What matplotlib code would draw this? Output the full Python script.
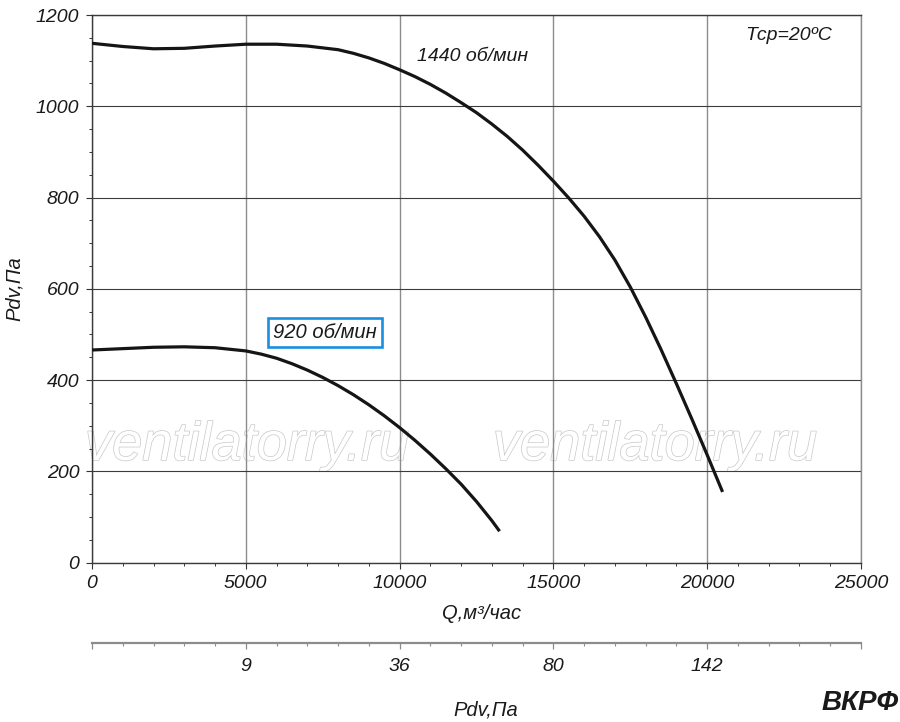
import numpy as np
import matplotlib
matplotlib.use('Agg')
import matplotlib.pyplot as plt
from matplotlib.ticker import MultipleLocator
import matplotlib.patheffects as pe

plt.rcParams['font.family'] = ['Liberation Sans', 'DejaVu Sans']
plt.rcParams['font.style'] = 'italic'

# curve 1440 rpm
q_1440 = [0, 1000, 2000, 3000, 4000, 5000, 6000, 7000, 8000, 8500, 9000,
          9500, 10000, 10500, 11000, 11500, 12000, 12500, 13000, 13500,
          14000, 14500, 15000, 15500, 16000, 16500, 17000, 17500, 18000,
          18500, 19000, 19500, 20000, 20500]
p_1440 = [1138, 1131, 1126, 1127, 1132, 1136, 1136, 1132, 1124, 1116, 1106,
          1094, 1080, 1065, 1048, 1029, 1008, 986, 961, 934,
          904, 871, 836, 799, 759, 714, 663, 604, 538,
          467, 392, 315, 236, 155]

# curve 920 rpm
q_920 = [0, 1000, 2000, 3000, 4000, 5000, 5500, 6000, 6500, 7000, 7500,
         8000, 8500, 9000, 9500, 10000, 10500, 11000, 11500, 12000,
         12500, 13000, 13250]
p_920 = [466, 469, 472, 473, 471, 464, 457, 448, 436, 422, 406,
         388, 368, 346, 322, 296, 268, 238, 206, 172,
         134, 92, 69]

q_ticks = [0, 5000, 10000, 15000, 20000, 25000]
p_ticks = [0, 200, 400, 600, 800, 1000, 1200]
pdv_ticks = [0, 5000, 10000, 15000, 20000, 25000]
pdv_labels = ['', '9', '36', '80', '142', '']

fig = plt.figure(figsize=(9, 7.22), dpi=100)
ax = fig.add_axes([92/900, 1-562.7/722, 769/900, 547.7/722])

ax.set_xlim(0, 25000)
ax.set_ylim(0, 1200)

ax.plot(q_1440, p_1440, color='#151515', lw=2.3, solid_capstyle='butt',
        solid_joinstyle='round', zorder=3)
ax.plot(q_920, p_920, color='#151515', lw=2.3, solid_capstyle='butt',
        solid_joinstyle='round', zorder=3)

# grid: dark horizontal, grey vertical
ax.yaxis.grid(True, color='#3c3c3c', lw=0.8)
ax.xaxis.grid(True, color='#8c8c8c', lw=1.0)

ax.set_xticks(q_ticks)
ax.set_yticks(p_ticks)
ax.xaxis.set_minor_locator(MultipleLocator(1000))
ax.yaxis.set_minor_locator(MultipleLocator(50))
ax.tick_params(axis='both', which='major', direction='out', length=4.5, width=0.8,
               color='#333333', labelsize=14, pad=4.5, labelcolor='#1a1a1a')
ax.tick_params(axis='both', which='minor', direction='out', length=2.5, width=0.7,
               color='#333333')

for side in ['left', 'bottom', 'top']:
    ax.spines[side].set_color('#3a3a3a')
    ax.spines[side].set_linewidth(1.0)
ax.spines['right'].set_color('#8c8c8c')
ax.spines['right'].set_linewidth(1.0)

ax.set_xlabel('Q,м³/час', fontsize=14.5, color='#1a1a1a', va='top')
ax.xaxis.set_label_coords(0.507, -0.075)
ax.set_ylabel('Pdv,Па', fontsize=14.5, color='#1a1a1a')
ax.yaxis.set_label_coords(-0.088, 0.5)

ax.text(10566, 1110, '1440 об/мин', fontsize=14, color='#1a1a1a', va='center', ha='left')
ax.text(22660, 1154, 'Tср=20ºC', fontsize=14, color='#1a1a1a', va='center', ha='center')
ax.text(7575, 505, '920 об/мин', fontsize=14.5, color='#1a1a1a', va='center', ha='center',
        bbox=dict(boxstyle='square,pad=0.25', fc='white', ec='#1a8fe0', lw=1.9), zorder=4)

# watermark
for xc in [5040, 18300]:
    ax.text(xc, 225, 'ventilatorry.ru', fontsize=39, color='white', ha='center',
            va='baseline', zorder=0.5,
            path_effects=[pe.Stroke(linewidth=1.0, foreground='#c8c8c8'), pe.Normal()])

# second scale: dynamic pressure
ax2 = fig.add_axes([92/900, 1-643.3/722, 769/900, 0.0001])
ax2.set_xlim(0, 25000)
ax2.set_yticks([])
for side in ['left', 'right', 'top']:
    ax2.spines[side].set_visible(False)
ax2.spines['bottom'].set_color('#8c8c8c')
ax2.spines['bottom'].set_linewidth(1.6)
ax2.patch.set_visible(False)
ax2.set_xticks(pdv_ticks)
ax2.set_xticklabels(pdv_labels)
ax2.xaxis.set_minor_locator(MultipleLocator(1000))
ax2.tick_params(axis='x', which='major', direction='out', length=4.5, width=0.9,
                color='#8c8c8c', labelsize=14, pad=6, labelcolor='#1a1a1a')
ax2.tick_params(axis='x', which='minor', direction='out', length=2.5, width=0.8,
                color='#8c8c8c')

fig.text(486/900, 1-710/722, 'Pdv,Па', fontsize=14.5, color='#1a1a1a', ha='center', va='center')
fig.text(899/900, 1-703/722, 'ВКРФ', fontsize=20, fontweight='bold', color='#1a1a1a',
         ha='right', va='center')

fig.savefig('out.png', dpi=100, facecolor='white')
